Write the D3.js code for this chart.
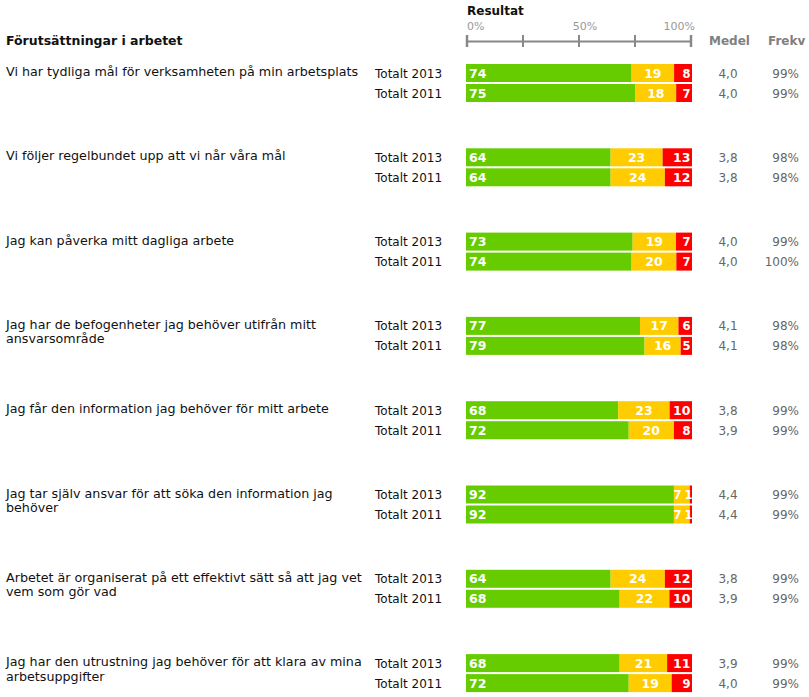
<!DOCTYPE html>
<html><head><meta charset="utf-8">
<script src="https://cdn.jsdelivr.net/npm/d3@7"></script>
<style>body{margin:0;background:#fff}</style>
</head><body>
<script>
const questions = [
  "Vi har tydliga mål för verksamheten på min arbetsplats",
  "Vi följer regelbundet upp att vi når våra mål",
  "Jag kan påverka mitt dagliga arbete",
  "Jag har de befogenheter jag behöver utifrån mitt\nansvarsområde",
  "Jag får den information jag behöver för mitt arbete",
  "Jag tar själv ansvar för att söka den information jag\nbehöver",
  "Arbetet är organiserat på ett effektivt sätt så att jag vet\nvem som gör vad",
  "Jag har den utrustning jag behöver för att klara av mina\narbetsuppgifter"
];
const seriesNames = ["Totalt 2013", "Totalt 2011"];
// [green, yellow, red] per question, 2013 then 2011
const green2013 = [74, 64, 73, 77, 68, 92, 64, 68];
const yellow2013 = [19, 23, 19, 17, 23, 7, 24, 21];
const red2013 = [8, 13, 7, 6, 10, 1, 12, 11];
const green2011 = [75, 64, 74, 79, 72, 92, 68, 72];
const yellow2011 = [18, 24, 20, 16, 20, 7, 22, 19];
const red2011 = [7, 12, 7, 5, 8, 1, 10, 9];
const medel2013 = ["4,0", "3,8", "4,0", "4,1", "3,8", "4,4", "3,8", "3,9"];
const medel2011 = ["4,0", "3,8", "4,0", "4,1", "3,9", "4,4", "3,9", "4,0"];
const frekv2013 = ["99%", "98%", "99%", "98%", "99%", "99%", "99%", "99%"];
const frekv2011 = ["99%", "98%", "100%", "98%", "99%", "99%", "99%", "99%"];
const tickValues = [0, 25, 50, 75, 100];
const tickLabels = {0: "0%", 50: "50%", 100: "100%"};

const W = 809, H = 697;
const svg = d3.select("body").append("svg").attr("width", W).attr("height", H)
  .style("font-family", "'DejaVu Sans', Verdana, sans-serif");

const colors = ["#66cc00", "#ffcc00", "#ff0000"];
const x = d3.scaleLinear().domain([0, 100]).range([466, 692]);
const xAxisScale = d3.scaleLinear().domain([0, 100]).range([467, 691]);
const gy = d3.scaleBand().domain(d3.range(questions.length)).range([64, 64 + 84.3 * 8]).paddingInner(0).paddingOuter(0);
const barH = 18, barStep = 20;

// Headers
svg.append("text").attr("x", 6).attr("y", 45).text("Förutsättningar i arbetet")
  .attr("font-weight", "bold").attr("font-size", 12.5).attr("fill", "#111");
svg.append("text").attr("x", 467).attr("y", 15).text("Resultat")
  .attr("font-weight", "bold").attr("font-size", 12).attr("fill", "#111");
svg.append("text").attr("x", 709).attr("y", 45).text("Medel")
  .attr("font-weight", "bold").attr("font-size", 12).attr("fill", "#808080");
svg.append("text").attr("x", 768).attr("y", 45).text("Frekv")
  .attr("font-weight", "bold").attr("font-size", 12).attr("fill", "#808080");

// Axis
const axisG = svg.append("g");
axisG.append("line").attr("x1", xAxisScale(0)).attr("x2", xAxisScale(100))
  .attr("y1", 41.5).attr("y2", 41.5).attr("stroke", "#888").attr("stroke-width", 2);
axisG.selectAll("line.tick").data(tickValues).join("line").attr("class", "tick")
  .attr("x1", d => xAxisScale(d)).attr("x2", d => xAxisScale(d))
  .attr("y1", 35).attr("y2", 47).attr("stroke", "#888")
  .attr("stroke-width", d => (d === 0 || d === 100) ? 2.5 : 2);
axisG.selectAll("text.tl").data(Object.keys(tickLabels).map(Number)).join("text").attr("class", "tl")
  .attr("x", d => d === 0 ? xAxisScale(0) : d === 100 ? xAxisScale(100) + 4 : xAxisScale(d) + 6)
  .attr("y", 30)
  .attr("text-anchor", d => d === 0 ? "start" : d === 100 ? "end" : "middle")
  .attr("font-size", 11).attr("fill", "#999")
  .text(d => tickLabels[d]);

const rowsData = questions.map((q, i) => ({
  q, i,
  rows: [
    {name: seriesNames[0], vals: [green2013[i], yellow2013[i], red2013[i]], medel: medel2013[i], frekv: frekv2013[i]},
    {name: seriesNames[1], vals: [green2011[i], yellow2011[i], red2011[i]], medel: medel2011[i], frekv: frekv2011[i]}
  ]
}));

const groups = svg.selectAll("g.grp").data(rowsData).join("g").attr("class", "grp")
  .attr("transform", d => `translate(0,${gy(d.i)})`);

groups.each(function(d) {
  const g = d3.select(this);
  const lines = d.q.split("\n");
  g.append("text").attr("x", 6).attr("y", 12).attr("font-size", 12.7).attr("fill", "#111")
    .selectAll("tspan").data(lines).join("tspan")
    .attr("x", 6).attr("dy", (l, k) => k === 0 ? 0 : 14.5).text(l => l);

  d.rows.forEach((r, k) => {
    const y0 = k * barStep;
    const cy = y0 + barH / 2;
    g.append("text").attr("x", 375).attr("y", cy + 4.5).attr("font-size", 12)
      .attr("fill", "#111").text(r.name);
    const total = d3.sum(r.vals);
    let acc = 0;
    const segs = r.vals.map((v, j) => {
      const s = {v, j, a: acc / total * 100, b: (acc + v) / total * 100};
      acc += v; return s;
    });
    g.selectAll(null).data(segs).join("rect")
      .attr("x", s => x(s.a)).attr("y", y0)
      .attr("width", s => x(s.b) - x(s.a)).attr("height", barH)
      .attr("fill", s => colors[s.j]);
    const narrow = s => (x(s.b) - x(s.a)) < 22;
    const tiny = s => (x(s.b) - x(s.a)) < 6;
    g.selectAll(null).data(segs).join("text")
      .attr("x", s => s.j === 0 ? x(s.a) + 3
        : s.j === 1 ? (narrow(s) ? x(s.a) - 0.5 : (x(s.a) + x(s.b)) / 2)
        : (tiny(s) ? x(s.b) + 0.5 : x(s.b) - 1.5))
      .attr("y", cy + 4.5)
      .attr("text-anchor", s => s.j === 0 ? "start" : s.j === 1 ? (narrow(s) ? "start" : "middle") : "end")
      .attr("font-size", s => (s.j > 0 && narrow(s)) ? 11.5 : 12.5)
      .attr("font-weight", "bold").attr("fill", "#fff")
      .text(s => s.v);
    g.append("text").attr("x", 728).attr("y", cy + 4.5).attr("text-anchor", "middle")
      .attr("font-size", 12).attr("fill", "#666").text(r.medel);
    g.append("text").attr("x", 799).attr("y", cy + 4.5).attr("text-anchor", "end")
      .attr("font-size", 12).attr("fill", "#666").text(r.frekv);
  });
});
</script>
</body></html>
